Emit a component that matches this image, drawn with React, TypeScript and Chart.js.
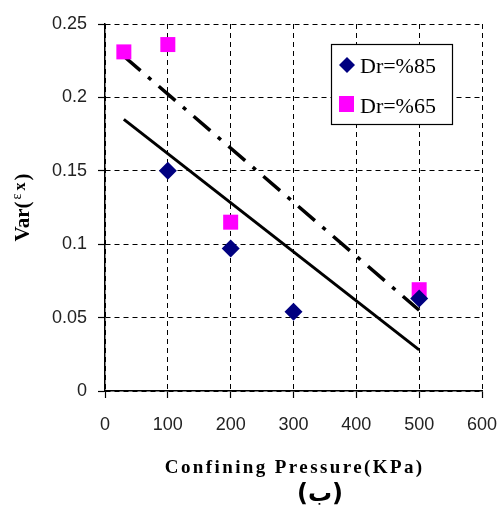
import React, { useEffect, useRef } from "react";
import { Chart, registerables } from "chart.js";

Chart.register(...registerables);

const seriesNames = ["Dr=%85", "Dr=%65"];
const pressure85 = [100, 200, 300, 500];
const var85 = [0.15, 0.097, 0.054, 0.063];
const pressure65 = [30, 100, 200, 500];
const var65 = [0.231, 0.236, 0.115, 0.069];
const trendX = [30, 500];
const trend85 = [0.185, 0.028];
const trend65 = [0.228, 0.055];
const xTicks = [0, 100, 200, 300, 400, 500, 600];
const yTicks = [0, 0.05, 0.1, 0.15, 0.2, 0.25];
const xTitle = "Confining Pressure(KPa)";
const caption = "(ب)";

const NAVY = "#000080";
const MAGENTA = "#FF00FF";

const textPlugin = {
  id: "customText",
  afterDraw(chart: any) {
    const { ctx, chartArea } = chart;
    ctx.save();
    // x title
    ctx.font = 'bold 19px "Liberation Serif"';
    ctx.fillStyle = "#000";
    (ctx as any).letterSpacing = "2.4px";
    ctx.textAlign = "left";
    ctx.textBaseline = "alphabetic";
    const w = ctx.measureText(xTitle).width - 2.4;
    const cx = (chartArea.left + chartArea.right) / 2;
    ctx.fillText(xTitle, cx - w / 2, 473);
    (ctx as any).letterSpacing = "0px";

    // caption
    ctx.font = 'bold 24px "DejaVu Sans"';
    ctx.textAlign = "center";
    ctx.fillText(caption, 320, 501);

    // y title, rotated
    const cy = (chartArea.top + chartArea.bottom) / 2;
    ctx.translate(29, cy);
    ctx.rotate(-Math.PI / 2);
    ctx.textAlign = "left";
    const parts = [
      { t: "Var(", f: 'bold 21px "Liberation Serif"', dy: 0, gap: 2 },
      { t: "ε", f: '14px "Liberation Serif"', dy: -8, gap: 3 },
      { t: "x", f: 'bold 16px "Liberation Serif"', dy: -4, gap: 2 },
      { t: ")", f: 'bold 21px "Liberation Serif"', dy: 0, gap: 0 },
    ];
    let total = 0;
    for (const p of parts) {
      ctx.font = p.f;
      total += ctx.measureText(p.t).width + p.gap;
    }
    let px = -total / 2;
    for (const p of parts) {
      ctx.font = p.f;
      ctx.fillText(p.t, px, p.dy);
      px += ctx.measureText(p.t).width + p.gap;
    }
    ctx.restore();

    // legend box
    ctx.save();
    const lx = 331, ly = 44, lw = 121, lh = 80;
    ctx.fillStyle = "#fff";
    ctx.fillRect(lx, ly, lw, lh);
    ctx.strokeStyle = "#000";
    ctx.lineWidth = 1.2;
    ctx.strokeRect(lx + 0.5, ly + 0.5, lw, lh);
    // diamond
    ctx.fillStyle = NAVY;
    ctx.beginPath();
    ctx.moveTo(347, 65 - 8);
    ctx.lineTo(355, 65);
    ctx.lineTo(347, 65 + 8);
    ctx.lineTo(339, 65);
    ctx.closePath();
    ctx.fill();
    // square
    ctx.fillStyle = MAGENTA;
    ctx.fillRect(339, 96, 15, 16);
    ctx.fillStyle = "#000";
    ctx.font = '22px "Liberation Serif"';
    ctx.textAlign = "left";
    ctx.textBaseline = "alphabetic";
    ctx.fillText(seriesNames[0], 360, 73);
    ctx.fillText(seriesNames[1], 360, 113);
    ctx.restore();
  },
};

export default function App() {
  const ref = useRef<HTMLCanvasElement>(null);
  useEffect(() => {
    document.body.style.margin = "0";
    const c = ref.current!;
    const chart = new Chart(c, {
      type: "scatter",
      data: {
        datasets: [
          {
            label: seriesNames[0],
            data: pressure85.map((x, i) => ({ x, y: var85[i] })),
            pointStyle: "rectRot",
            pointRadius: 9,
            pointBackgroundColor: NAVY,
            pointBorderColor: NAVY,
            pointBorderWidth: 0,
            showLine: false,
          },
          {
            label: seriesNames[1],
            data: pressure65.map((x, i) => ({ x, y: var65[i] })),
            pointStyle: "rect",
            pointRadius: 10.6,
            pointBackgroundColor: MAGENTA,
            pointBorderColor: MAGENTA,
            pointBorderWidth: 0,
            showLine: false,
          },
          {
            label: "trend85",
            data: trendX.map((x, i) => ({ x, y: trend85[i] })),
            showLine: true,
            borderColor: "#000",
            borderWidth: 3,
            pointRadius: 0,
          },
          {
            label: "trend65",
            data: trendX.map((x, i) => ({ x, y: trend65[i] })),
            showLine: true,
            borderColor: "#000",
            borderWidth: 3.5,
            borderDash: [22, 10, 4, 10],
            pointRadius: 0,
          },
        ],
      },
      options: {
        animation: false,
        responsive: false,
        devicePixelRatio: 1,
        layout: { padding: { top: 24, right: 16, left: 0, bottom: 0 } },
        plugins: { legend: { display: false }, tooltip: { enabled: false } },
        scales: {
          x: {
            type: "linear",
            min: 0,
            max: 600,
            afterBuildTicks: (s: any) => {
              s.ticks = xTicks.map((v) => ({ value: v }));
            },
            afterFit: (s: any) => {
              s.height = 119;
              s.paddingLeft = 0;
              s.paddingRight = 0;
            },
            grid: { color: "#000", lineWidth: 1, tickLength: 7, tickColor: "#000", tickWidth: 1.2 },
            border: { color: "#000", width: 1.5, dash: [5, 4] },
            ticks: {
              color: "#222",
              font: { family: '"Liberation Sans"', size: 18 },
              padding: 16,
              maxRotation: 0,
              callback: (v: any) => String(v),
            },
          },
          y: {
            type: "linear",
            min: 0,
            max: 0.25,
            afterBuildTicks: (s: any) => {
              s.ticks = yTicks.map((v) => ({ value: v }));
            },
            afterFit: (s: any) => {
              s.width = 105;
              s.paddingTop = 0;
              s.paddingBottom = 0;
            },
            grid: { color: "#000", lineWidth: 1, tickLength: 7, tickColor: "#000", tickWidth: 1.2 },
            border: { color: "#000", width: 1.5, dash: [5, 4] },
            ticks: {
              color: "#222",
              font: { family: '"Liberation Sans"', size: 18 },
              padding: 11,
              callback: (v: any) => String(v),
            },
          },
        },
      },
      plugins: [textPlugin],
    });
    return () => chart.destroy();
  }, []);
  return (
    <div style={{ position: "absolute", left: 0, top: 0, width: 498, height: 510, background: "#fff" }}>
      <canvas ref={ref} width={498} height={510} style={{ width: 498, height: 510 }} />
    </div>
  );
}
